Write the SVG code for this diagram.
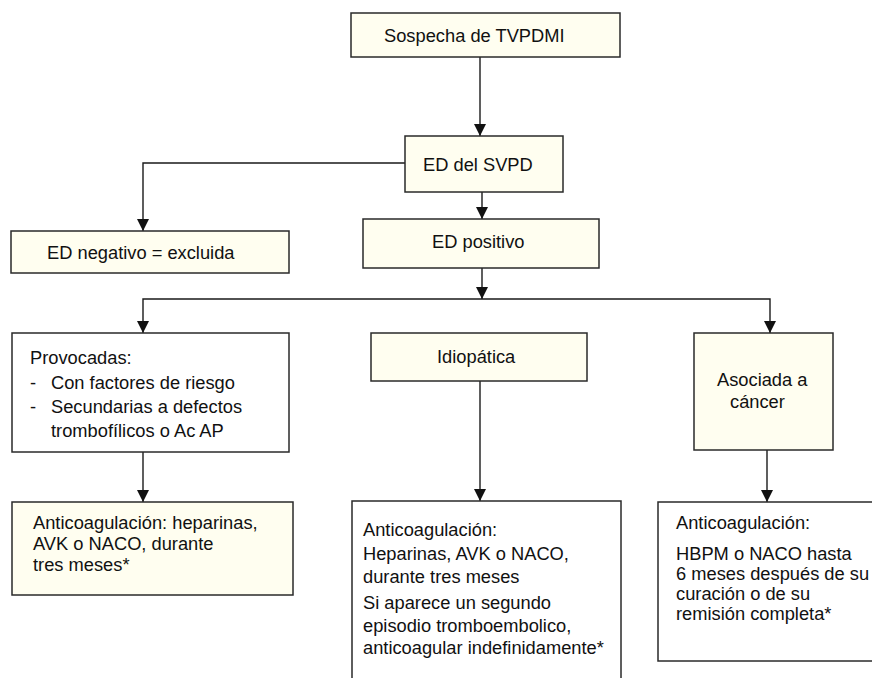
<svg xmlns="http://www.w3.org/2000/svg" width="872" height="678" viewBox="0 0 872 678">
<style>
.by{fill:#FFFEF0;stroke:#2a2a2a;stroke-width:1.5}
.bw{fill:#FFFFFF;stroke:#2a2a2a;stroke-width:1.5}
.t{font-family:"Liberation Sans",Arial,sans-serif;font-size:18.3px;fill:#111}
.c{fill:none;stroke:#1a1a1a;stroke-width:1.4}
</style>
<defs>
<marker id="ah" markerUnits="userSpaceOnUse" markerWidth="13" markerHeight="13" refX="12" refY="6" orient="auto">
<path d="M0,0 L12,6 L0,12 z" fill="#111"/>
</marker>
</defs>
<rect width="872" height="678" fill="#FFFFFF"/>
<g id="connectors">
<path class="c" d="M480,57 V136" marker-end="url(#ah)"/>
<path class="c" d="M405,163 H143 V231" marker-end="url(#ah)"/>
<path class="c" d="M482,192 V219" marker-end="url(#ah)"/>
<path class="c" d="M482,268 V299" marker-end="url(#ah)"/>
<path class="c" d="M482,299 H143 V333" marker-end="url(#ah)"/>
<path class="c" d="M482,299 H770 V333" marker-end="url(#ah)"/>
<path class="c" d="M143,452 V502" marker-end="url(#ah)"/>
<path class="c" d="M480,381 V501" marker-end="url(#ah)"/>
<path class="c" d="M767,450 V502" marker-end="url(#ah)"/>
</g>
<g id="sospecha">
<rect class="by" x="351" y="13" width="269" height="44"/>
<text class="t" x="384" y="42">Sospecha de TVPDMI</text>
</g>
<g id="ed-svpd">
<rect class="by" x="405" y="136" width="158" height="56"/>
<text class="t" x="423" y="171">ED del SVPD</text>
</g>
<g id="ed-negativo">
<rect class="by" x="11" y="231" width="278" height="42"/>
<text class="t" x="47" y="259">ED negativo = excluida</text>
</g>
<g id="ed-positivo">
<rect class="by" x="363" y="219" width="236" height="49"/>
<text class="t" x="432" y="248">ED positivo</text>
</g>
<g id="provocadas">
<rect class="bw" x="12" y="333" width="277" height="119"/>
<text class="t" x="30" y="364">Provocadas:</text>
<text class="t" x="30" y="389">-</text>
<text class="t" x="51" y="389">Con factores de riesgo</text>
<text class="t" x="30" y="413">-</text>
<text class="t" x="51" y="413">Secundarias a defectos</text>
<text class="t" x="51" y="437">trombofílicos o Ac AP</text>
</g>
<g id="idiopatica">
<rect class="by" x="371" y="333" width="216" height="48"/>
<text class="t" x="437" y="363">Idiopática</text>
</g>
<g id="asociada">
<rect class="by" x="694" y="333" width="139" height="117"/>
<text class="t" x="717" y="386">Asociada a</text>
<text class="t" x="730" y="408">cáncer</text>
</g>
<g id="trat-provocadas">
<rect class="by" x="12" y="502" width="281" height="93"/>
<text class="t" x="33" y="529">Anticoagulación: heparinas,</text>
<text class="t" x="33" y="550">AVK o NACO, durante</text>
<text class="t" x="33" y="571">tres meses*</text>
</g>
<g id="trat-idiopatica">
<rect class="bw" x="352" y="501" width="269" height="190"/>
<text class="t" x="363" y="536">Anticoagulación:</text>
<text class="t" x="363" y="560">Heparinas, AVK o NACO,</text>
<text class="t" x="363" y="583">durante tres meses</text>
<text class="t" x="363" y="609">Si aparece un segundo</text>
<text class="t" x="363" y="632">episodio tromboembolico,</text>
<text class="t" x="363" y="654">anticoagular indefinidamente*</text>
</g>
<g id="trat-cancer">
<rect class="bw" x="658" y="502" width="230" height="159"/>
<text class="t" x="676" y="529">Anticoagulación:</text>
<text class="t" x="676" y="560">HBPM o NACO hasta</text>
<text class="t" x="676" y="580">6 meses después de su</text>
<text class="t" x="676" y="600">curación o de su</text>
<text class="t" x="676" y="620">remisión completa*</text>
</g>
</svg>
